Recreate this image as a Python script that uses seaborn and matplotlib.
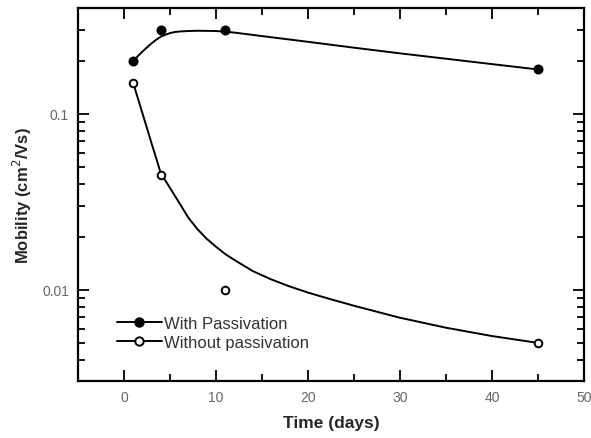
import matplotlib
matplotlib.use("Agg")
import matplotlib.pyplot as plt
import seaborn as sns
import numpy as np
import pandas as pd
from matplotlib.lines import Line2D
from matplotlib.ticker import FixedLocator, FixedFormatter, MultipleLocator, LogLocator, NullFormatter

# measured data points
days = [1, 4, 11, 45]
with_pass = [0.2, 0.3, 0.3, 0.18]
without_pass = [0.15, 0.045, 0.01, 0.005]

# fitted curves
with_curve_x = [1, 1.5, 2, 2.5, 3, 3.5, 4, 4.5, 5, 5.5, 6, 7, 8, 10, 12, 15, 20, 25, 30, 35, 40, 45]
with_curve_y = [0.2, 0.213, 0.226, 0.239, 0.252, 0.264, 0.275, 0.282, 0.288, 0.292, 0.294, 0.296, 0.297,
                0.296, 0.29, 0.277, 0.257, 0.238, 0.221, 0.206, 0.192, 0.179]
without_curve_x = [1, 1.5, 2, 2.5, 3, 3.5, 4, 5, 6, 7, 8, 9, 10, 11, 12, 14, 16, 18, 20, 22, 25, 30, 35, 40, 45]
without_curve_y = [0.15, 0.123, 0.101, 0.083, 0.068, 0.056, 0.046, 0.038, 0.0313, 0.0257, 0.0221, 0.0195,
                   0.0176, 0.016, 0.0148, 0.0128, 0.01148, 0.01047, 0.00966, 0.0090, 0.00813, 0.00695,
                   0.0061, 0.00547, 0.005]

sns.set_theme(style="white")
plt.rcParams['font.family'] = ['Liberation Sans', 'DejaVu Sans']

fig = plt.figure(figsize=(5.91, 4.39), dpi=100)
ax = fig.add_axes([0.132, 0.130, 0.856, 0.8495])

sns.lineplot(x=with_curve_x, y=with_curve_y, ax=ax, color="black", lw=1.4, sort=False, estimator=None)
sns.lineplot(x=without_curve_x, y=without_curve_y, ax=ax, color="black", lw=1.4, sort=False, estimator=None)
sns.scatterplot(x=days, y=with_pass, ax=ax, marker="o", s=36, color="black", edgecolor="black", linewidth=1.2, zorder=5)
sns.scatterplot(x=days, y=without_pass, ax=ax, marker="o", s=30, facecolor="white", edgecolor="black", linewidth=1.4, zorder=5)

ax.set_yscale("log")
ax.set_xlim(-5, 50)
ax.set_ylim(0.00304, 0.4)

ax.xaxis.set_major_locator(MultipleLocator(10))
ax.xaxis.set_minor_locator(MultipleLocator(5))
ax.yaxis.set_major_locator(FixedLocator([0.001, 0.01, 0.1, 1]))
ax.yaxis.set_major_formatter(FixedFormatter(["0.001", "0.01", "0.1", "1"]))
ax.yaxis.set_minor_locator(LogLocator(base=10, subs=np.arange(2, 10) * 1.0))
ax.yaxis.set_minor_formatter(NullFormatter())

ax.tick_params(which="both", direction="in", top=True, right=True, left=True, bottom=True,
               color="black", width=1.3)
ax.tick_params(which="major", length=8, labelsize=10, labelcolor="#666666", pad=6.5)
ax.tick_params(which="minor", length=5)
for s in ax.spines.values():
    s.set_color("black")
    s.set_linewidth(1.6)

ax.set_xlabel("Time (days)", fontsize=12.5, fontweight="bold", labelpad=8)
ax.set_ylabel("Mobility (cm$^2$/Vs)", fontsize=12, fontweight="bold", labelpad=6)

handles = [
    Line2D([], [], color="black", lw=1.4, marker="o", markersize=6.5, markerfacecolor="black", markeredgecolor="black"),
    Line2D([], [], color="black", lw=1.4, marker="o", markersize=6, markerfacecolor="white", markeredgecolor="black", markeredgewidth=1.4),
]
leg = ax.legend(handles, ["With Passivation", "Without passivation"], loc="center left",
                bbox_to_anchor=(0.077, 0.129), frameon=False, fontsize=12, handlelength=2.7,
                handletextpad=0.1, labelspacing=0.25, borderpad=0, borderaxespad=0)
for t in leg.get_texts():
    t.set_color("#333333")

fig.savefig("out.png", dpi=100)
